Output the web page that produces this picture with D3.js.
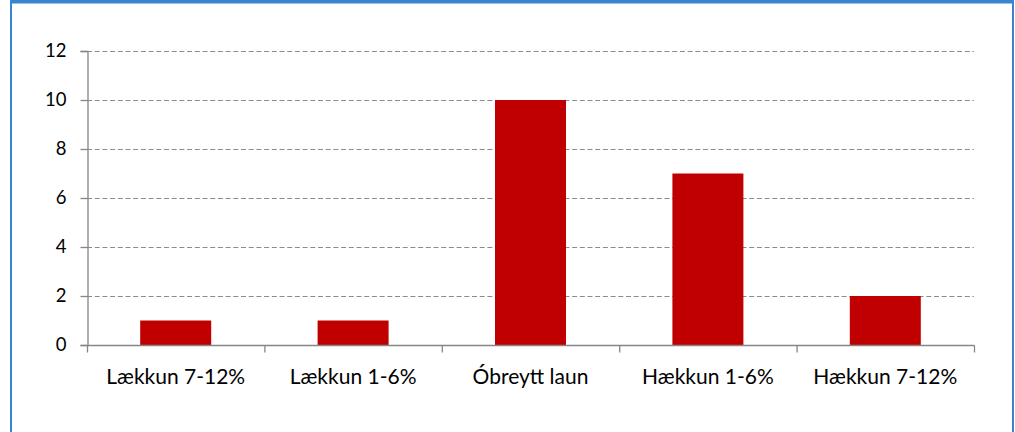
<!DOCTYPE html>
<html><head><meta charset="utf-8">
<script src="https://cdn.jsdelivr.net/npm/d3@7"></script>
<style>html,body{margin:0;padding:0;background:#fff;overflow:hidden}</style>
</head><body>
<svg id="c" width="1015" height="432"></svg>
<script>
const categories = ["Lækkun 7-12%", "Lækkun 1-6%", "Óbreytt laun", "Hækkun 1-6%", "Hækkun 7-12%"];
const values = [1, 1, 10, 7, 2];
const yTicks = [0, 2, 4, 6, 8, 10, 12];

const svg = d3.select("#c");
const font = "Lato, 'Liberation Sans', sans-serif";

// frame
svg.append("rect").attr("x", 11).attr("y", -10).attr("width", 1002).attr("height", 460)
  .attr("fill", "#fff").attr("stroke", "#3a84d4").attr("stroke-width", 2);
svg.append("rect").attr("x", 10).attr("y", 0).attr("width", 1004).attr("height", 3.5).attr("fill", "#3a84d4");

const xb = d3.scaleBand().domain(categories).range([87, 974]);
const y = d3.scaleLinear().domain([0, 12]).range([345, 51]);

// gridlines
svg.append("g").selectAll("line").data(yTicks.filter(d => d > 0)).join("line")
  .attr("x1", 87).attr("x2", 974).attr("y1", d => Math.round(y(d)) + 0.5).attr("y2", d => Math.round(y(d)) + 0.5)
  .attr("stroke", "#8c8c8c").attr("stroke-width", 1).attr("stroke-dasharray", "5,2.7");

// bars
svg.append("g").selectAll("rect").data(values).join("rect")
  .attr("x", (d, i) => xb(categories[i]) + xb.bandwidth() / 2 - 35.5)
  .attr("width", 71)
  .attr("y", d => y(d)).attr("height", d => y(0) - y(d))
  .attr("fill", "#c00000");

// y axis
const ya = svg.append("g").attr("transform", "translate(87.5,0)")
  .call(d3.axisLeft(y).tickValues(yTicks).tickSize(7).tickPadding(14));
ya.select(".domain").attr("stroke", "#868686").attr("stroke-width", 1.3);
ya.selectAll(".tick line").attr("stroke", "#868686").attr("stroke-width", 1.3);
ya.selectAll("text").attr("font-family", font).attr("font-size", 18.5).attr("fill", "#000");

// x axis
const xa = svg.append("g").attr("transform", "translate(0,345.5)");
xa.append("line").attr("x1", 87).attr("x2", 974.5).attr("y1", 0).attr("y2", 0).attr("stroke", "#868686").attr("stroke-width", 1.3);
const bounds = categories.map(c => xb(c)).concat([xb.range()[1]]);
xa.selectAll("line.t").data(bounds).join("line").attr("class", "t")
  .attr("x1", d => d + 0.5).attr("x2", d => d + 0.5).attr("y1", 0).attr("y2", 7)
  .attr("stroke", "#868686").attr("stroke-width", 1.3);
xa.selectAll("text").data(categories).join("text")
  .attr("x", d => xb(d) + xb.bandwidth() / 2).attr("y", 38.5)
  .attr("text-anchor", "middle").attr("font-family", font).attr("font-size", 21).attr("fill", "#000")
  .text(d => d);
</script>
</body></html>
